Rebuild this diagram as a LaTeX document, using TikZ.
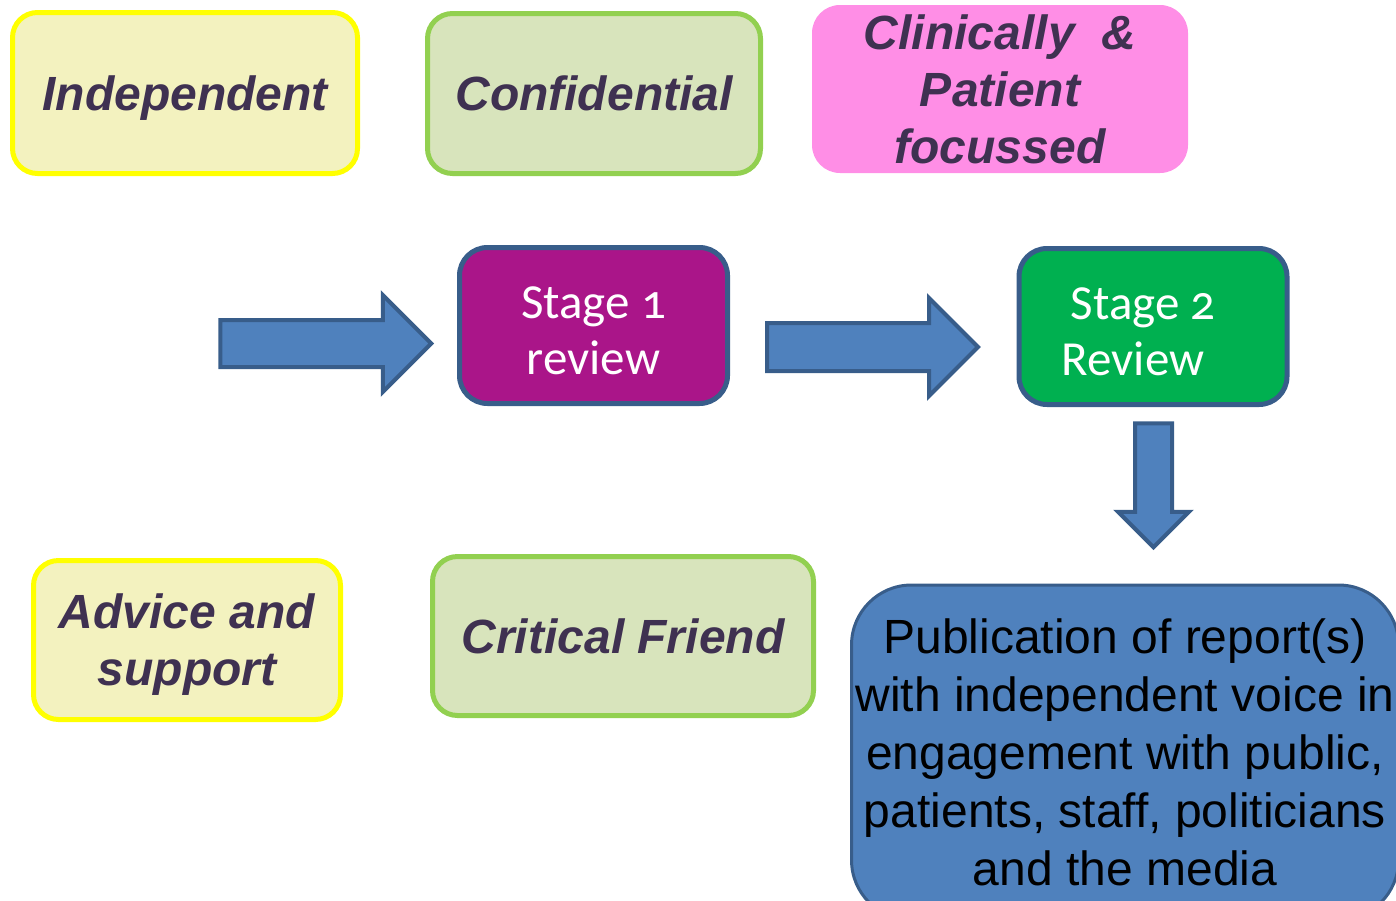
\documentclass[tikz,border=0pt]{standalone}
\usepackage{fontspec}
\setmainfont{Liberation Sans}
\newfontfamily\stagefont[Numbers=OldStyle]{Carlito}
\usetikzlibrary{shapes.arrows}
\definecolor{ylwfill}{HTML}{F3F2BF}
\definecolor{ylwline}{HTML}{FFFF00}
\definecolor{grnfill}{HTML}{D8E4BC}
\definecolor{grnline}{HTML}{92D050}
\definecolor{pinkfill}{HTML}{FF8EE6}
\definecolor{txtdark}{HTML}{3F3151}
\definecolor{purplefill}{HTML}{AA1589}
\definecolor{stagegreen}{HTML}{00B050}
\definecolor{blueline}{HTML}{385D8A}
\definecolor{bluefill}{HTML}{4F81BD}
\tikzset{
  qualbox/.style={rounded corners=12.5pt, line width=2.5pt, align=center, inner sep=0pt,
    text depth=0pt, font=\fontsize{24}{28.5}\selectfont\bfseries\itshape, text=txtdark},
  ylwbox/.style={qualbox, draw=ylwline, fill=ylwfill},
  grnbox/.style={qualbox, draw=grnline, fill=grnfill},
  stagebox/.style={rounded corners=14pt, line width=2.5pt, draw=blueline, align=center,
    inner sep=0pt, text=white, font=\stagefont\fontsize{24.5}{28}\selectfont,
    minimum width=134pt, minimum height=78pt},
  blockarrow/.style={single arrow, draw=blueline, fill=bluefill, line width=2pt,
    single arrow tip angle=90, anchor=center}
}
\begin{document}
\begin{tikzpicture}[x=0.5pt,y=-0.5pt]
\useasboundingbox (0,0) rectangle (1396,900);
\clip (0,0) rectangle (1396,900);
% top row
\node[ylwbox, minimum width=172.5pt, minimum height=80.5pt] (indep) at (185,93) {Independent};
\node[grnbox, minimum width=166.5pt, minimum height=80pt] (conf) at (594,93.5) {Confidential};
\node[qualbox, draw=none, fill=pinkfill, rounded corners=14pt, minimum width=188pt, minimum height=84pt] (clin) at (1000,89) {Clinically~~\&\\Patient\\focussed};
% stages
\node[stagebox, fill=purplefill] (s1) at (593.5,325.5) {\raisebox{-4.75pt}[\height][\depth]{\begin{tabular}{@{}c@{}}Stage 1\\review\end{tabular}}};
\node[stagebox, fill=stagegreen] (s2) at (1153,326.5) {\raisebox{-4.75pt}[\height][\depth]{\begin{tabular}{@{}l@{}}\hspace*{4.5pt}Stage 2\\Review\hspace*{20pt}\end{tabular}}};
% arrows
\node[blockarrow, inner xsep=0pt, inner ysep=10.75pt, minimum height=105.5pt, single arrow head extend=12.5pt] (a1) at (314,343.5) {};
\node[blockarrow, inner xsep=0pt, inner ysep=11pt, minimum height=105.5pt, single arrow head extend=12.5pt] (a2) at (860.5,347) {};
\node[blockarrow, shape border rotate=270, inner ysep=0pt, inner xsep=8.25pt, minimum height=62pt, single arrow head extend=8.5pt] (a3) at (1153.5,476) {};
% bottom row
\node[ylwbox, minimum width=153.5pt, minimum height=79.5pt] (advice) at (187,640) {Advice and\\support};
\node[grnbox, minimum width=190.5pt, minimum height=79.5pt] (crit) at (623,636) {Critical Friend};
\node[rounded corners=30pt, line width=1.5pt, draw=blueline, fill=bluefill, align=center,
  inner sep=0pt, text=black, font=\fontsize{24}{29}\selectfont,
  minimum width=273.5pt, minimum height=167.5pt] (pub) at (1125,752.5)
  {Publication of report(s)\\with independent voice in\\engagement with public,\\patients, staff, politicians\\and the media};
\end{tikzpicture}
\end{document}
